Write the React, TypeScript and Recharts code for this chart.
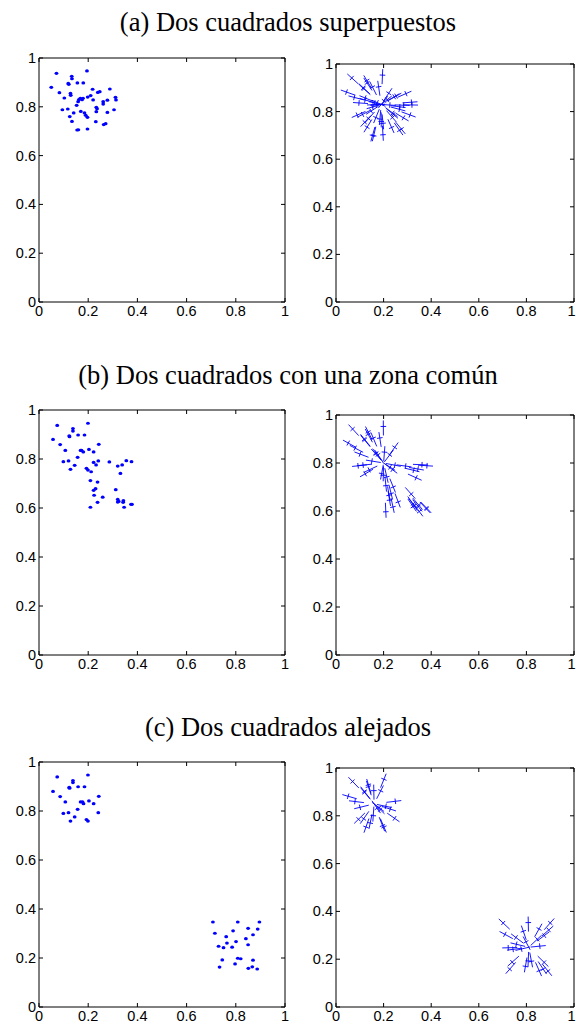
import React from 'react';
import { ScatterChart, Scatter, XAxis, YAxis } from 'recharts';

const TICKS = [0, 0.2, 0.4, 0.6, 0.8, 1];
const TICK_LABELS: Record<string, string> = { '0': '0', '0.2': '0.2', '0.4': '0.4', '0.6': '0.6', '0.8': '0.8', '1': '1' };
const BLUE = '#0000ff';

const TITLES = [
  '(a) Dos cuadrados superpuestos',
  '(b) Dos cuadrados con una zona común',
  '(c) Dos cuadrados alejados',
];

// (a) one cloud of points
const superpuestos: [number, number][] = [
  [0.071, 0.937], [0.195, 0.947], [0.133, 0.925], [0.134, 0.915], [0.05, 0.88],
  [0.119, 0.896], [0.121, 0.892], [0.156, 0.898], [0.18, 0.898], [0.083, 0.858],
  [0.128, 0.855], [0.129, 0.847], [0.103, 0.836], [0.218, 0.872], [0.247, 0.862],
  [0.239, 0.859], [0.288, 0.873], [0.21, 0.846], [0.198, 0.84], [0.168, 0.835],
  [0.179, 0.835], [0.175, 0.829], [0.162, 0.829], [0.159, 0.821], [0.22, 0.828],
  [0.153, 0.806], [0.261, 0.821], [0.261, 0.811], [0.278, 0.827], [0.311, 0.839],
  [0.313, 0.828], [0.095, 0.788], [0.117, 0.791], [0.141, 0.775], [0.17, 0.781],
  [0.185, 0.775], [0.19, 0.765], [0.197, 0.757], [0.233, 0.798], [0.236, 0.792],
  [0.233, 0.78], [0.278, 0.777], [0.305, 0.788], [0.125, 0.76], [0.134, 0.74],
  [0.231, 0.739], [0.263, 0.727], [0.271, 0.731], [0.155, 0.705], [0.16, 0.706],
  [0.197, 0.709],
];

// (b) two squares sharing a region
const zonaComun: [number, number][] = [
  [0.074, 0.937], [0.199, 0.946], [0.138, 0.924], [0.138, 0.914], [0.123, 0.895],
  [0.124, 0.891], [0.159, 0.898], [0.185, 0.898], [0.057, 0.88], [0.086, 0.859],
  [0.243, 0.86], [0.107, 0.835], [0.173, 0.835], [0.18, 0.829], [0.169, 0.835],
  [0.203, 0.839], [0.222, 0.829], [0.157, 0.807], [0.099, 0.789], [0.12, 0.792],
  [0.222, 0.786], [0.241, 0.792], [0.286, 0.788], [0.145, 0.774], [0.128, 0.758],
  [0.193, 0.762], [0.199, 0.755], [0.212, 0.748], [0.232, 0.776], [0.32, 0.771],
  [0.338, 0.776], [0.355, 0.793], [0.376, 0.789], [0.331, 0.741], [0.209, 0.712],
  [0.238, 0.706], [0.23, 0.679], [0.222, 0.672], [0.224, 0.652], [0.259, 0.644],
  [0.312, 0.675], [0.32, 0.635], [0.324, 0.627], [0.32, 0.624], [0.343, 0.63],
  [0.342, 0.623], [0.238, 0.623], [0.374, 0.615], [0.378, 0.615], [0.209, 0.603],
  [0.346, 0.603],
];

// (c) two squares far apart
const alejadosA: [number, number][] = [
  [0.074, 0.939], [0.199, 0.947], [0.138, 0.924], [0.138, 0.916], [0.123, 0.897],
  [0.124, 0.893], [0.159, 0.899], [0.185, 0.899], [0.057, 0.88], [0.086, 0.859],
  [0.243, 0.86], [0.107, 0.837], [0.169, 0.837], [0.177, 0.837], [0.181, 0.83],
  [0.203, 0.841], [0.222, 0.83], [0.157, 0.807], [0.099, 0.79], [0.12, 0.793],
  [0.241, 0.793], [0.145, 0.776], [0.128, 0.759], [0.193, 0.765], [0.199, 0.759],
];
const alejadosB: [number, number][] = [
  [0.707, 0.347], [0.808, 0.347], [0.896, 0.347], [0.715, 0.301], [0.789, 0.311],
  [0.85, 0.321], [0.889, 0.318], [0.761, 0.287], [0.87, 0.295], [0.841, 0.279],
  [0.764, 0.261], [0.801, 0.267], [0.73, 0.248], [0.75, 0.242], [0.785, 0.244],
  [0.85, 0.254], [0.745, 0.192], [0.808, 0.199], [0.82, 0.197], [0.87, 0.191],
  [0.797, 0.176], [0.734, 0.163], [0.851, 0.158], [0.867, 0.164], [0.887, 0.155],
];

// centre of each cloud, the segments point away from it
const centroSuperpuestos: [number, number] = [0.19, 0.83];
const centroZonaComun: [number, number] = [0.2, 0.8];
const centroAlejadosA: [number, number] = [0.16, 0.85];
const centroAlejadosB: [number, number] = [0.81, 0.25];

const toData = (pts: [number, number][]) => pts.map(([x, y]) => ({ x, y }));

const Dot = (props: any) => {
  const { cx, cy } = props;
  if (cx == null || cy == null) return null;
  return <ellipse cx={cx} cy={cy} rx={1.9} ry={1.6} fill={BLUE} />;
};

const makeSeg = (c: [number, number]) => (props: any) => {
  const { cx, cy, payload } = props;
  if (cx == null || cy == null) return null;
  const a = Math.atan2(-(payload.y - c[1]), payload.x - c[0]);
  const ux = Math.cos(a);
  const uy = Math.sin(a);
  const L = 7.5;
  const T = 2.8;
  const mx = cx + ux * 1.5;
  const my = cy + uy * 1.5;
  return (
    <g>
      <line x1={cx - ux * L} y1={cy - uy * L} x2={cx + ux * L} y2={cy + uy * L} stroke={BLUE} strokeWidth={0.9} />
      <line x1={mx - uy * T} y1={my + ux * T} x2={mx + uy * T} y2={my - ux * T} stroke={BLUE} strokeWidth={0.9} />
    </g>
  );
};

const TICK_FONT = { fontFamily: 'Liberation Sans, Arial, sans-serif', fontSize: 14.5, fill: '#000' };

const BottomTick = (props: any) => {
  const { x, y, payload, maxX } = props;
  // keep the last label inside the page
  const lx = maxX != null ? Math.min(x, maxX - 4.5) : x;
  return (
    <g>
      <line x1={x} y1={y} x2={x} y2={y - 4} stroke="#000" strokeWidth={1} />
      <text x={lx} y={y + 14} textAnchor="middle" {...TICK_FONT}>{TICK_LABELS[String(payload.value)]}</text>
    </g>
  );
};
const LeftTick = (props: any) => {
  const { x, y, payload } = props;
  return (
    <g>
      <line x1={x} y1={y} x2={x + 4} y2={y} stroke="#000" strokeWidth={1} />
      <text x={x - 3} y={y + 5} textAnchor="end" {...TICK_FONT}>{TICK_LABELS[String(payload.value)]}</text>
    </g>
  );
};
const TopTick = (props: any) => {
  const { x, y } = props;
  return <line x1={x} y1={y} x2={x} y2={y + 4} stroke="#000" strokeWidth={1} />;
};
const RightTick = (props: any) => {
  const { x, y } = props;
  return <line x1={x} y1={y} x2={x - 4} y2={y} stroke="#000" strokeWidth={1} />;
};

type Serie = { pts: [number, number][]; center?: [number, number] };

const Panel = ({ px, py, pw, ph, rp, series }: { px: number; py: number; pw: number; ph: number; rp: number; series: Serie[] }) => {
  const yw = 40;
  const xh = 22;
  const tp = 10;
  const w = yw + pw + rp;
  return (
    <div style={{ position: 'absolute', left: px - yw, top: py - tp }}>
      <ScatterChart width={w} height={tp + ph + xh} margin={{ top: 0, right: 0, bottom: 0, left: 0 }}>
        <XAxis xAxisId="b" dataKey="x" type="number" domain={[0, 1]} ticks={TICKS} height={xh} orientation="bottom"
          axisLine={{ stroke: '#000', strokeWidth: 1 }} tickLine={false} tickSize={0} tickMargin={0} tick={<BottomTick maxX={w} />} interval={0} allowDataOverflow />
        <XAxis xAxisId="t" dataKey="x" type="number" domain={[0, 1]} ticks={TICKS} height={tp} orientation="top"
          axisLine={{ stroke: '#000', strokeWidth: 1 }} tickLine={false} tickSize={0} tickMargin={0} tick={<TopTick />} interval={0} allowDataOverflow />
        <YAxis yAxisId="l" dataKey="y" type="number" domain={[0, 1]} ticks={TICKS} width={yw} orientation="left"
          axisLine={{ stroke: '#000', strokeWidth: 1 }} tickLine={false} tickSize={0} tickMargin={0} tick={<LeftTick />} interval={0} allowDataOverflow />
        <YAxis yAxisId="r" dataKey="y" type="number" domain={[0, 1]} ticks={TICKS} width={rp} orientation="right"
          axisLine={{ stroke: '#000', strokeWidth: 1 }} tickLine={false} tickSize={0} tickMargin={0} tick={<RightTick />} interval={0} allowDataOverflow />
        {series.map((s, i) => (
          <Scatter key={i} xAxisId="b" yAxisId="l" data={toData(s.pts)} isAnimationActive={false}
            shape={s.center ? makeSeg(s.center) : Dot} />
        ))}
      </ScatterChart>
    </div>
  );
};

const App = () => (
  <div style={{ position: 'absolute', left: 0, top: 0, width: 576, height: 1028, background: '#fff', overflow: 'hidden' }}>
    <svg width={576} height={1028} style={{ position: 'absolute', left: 0, top: 0 }}>
      {TITLES.map((t, i) => (
        <text key={i} x={288} y={[31, 384, 736][i]} textAnchor="middle" fontFamily="Liberation Serif, Times New Roman, serif" fontSize={26.5} fill="#000">{t}</text>
      ))}
    </svg>
    <Panel px={39} py={58} pw={246} ph={244} rp={12} series={[{ pts: superpuestos }]} />
    <Panel px={336} py={64} pw={238} ph={238} rp={2} series={[{ pts: superpuestos, center: centroSuperpuestos }]} />
    <Panel px={39} py={410} pw={246} ph={245} rp={12} series={[{ pts: zonaComun }]} />
    <Panel px={336} py={415} pw={238} ph={240} rp={2} series={[{ pts: zonaComun, center: centroZonaComun }]} />
    <Panel px={39} py={762} pw={246} ph={245} rp={12} series={[{ pts: alejadosA }, { pts: alejadosB }]} />
    <Panel px={336} py={768} pw={238} ph={239} rp={2} series={[{ pts: alejadosA, center: centroAlejadosA }, { pts: alejadosB, center: centroAlejadosB }]} />
  </div>
);

export default App;
